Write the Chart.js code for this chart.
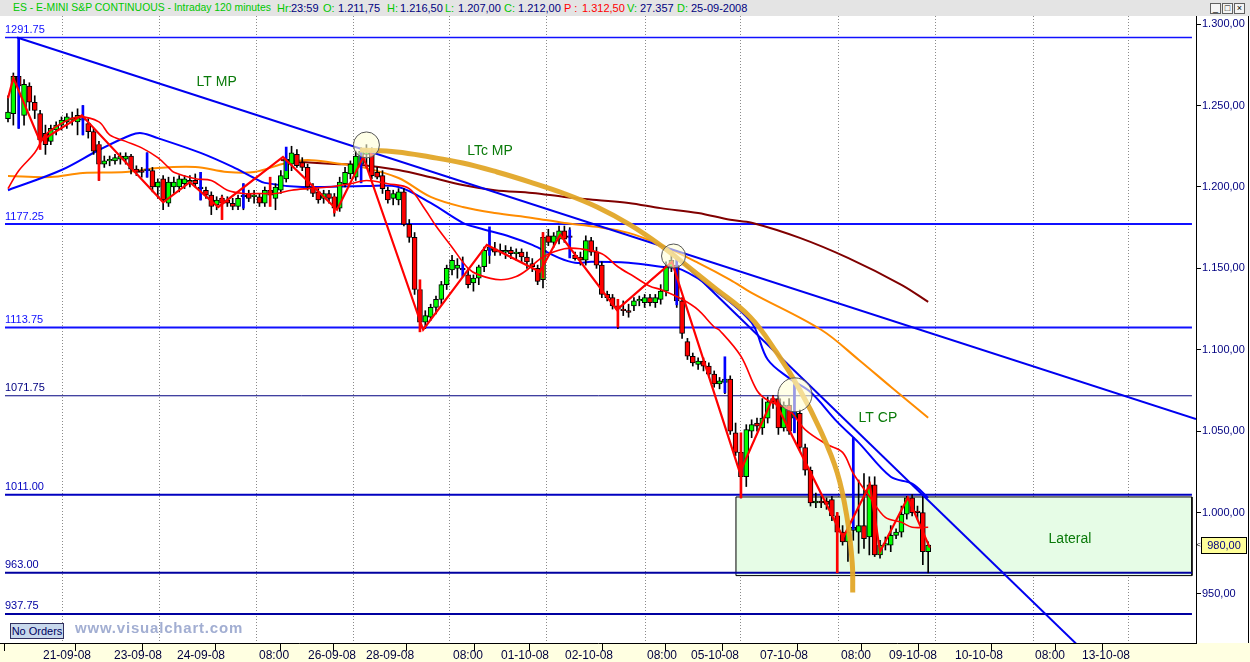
<!DOCTYPE html>
<html><head><meta charset="utf-8">
<script src="https://cdn.jsdelivr.net/npm/chart.js"></script>
<style>
body{margin:0;width:1250px;height:662px;overflow:hidden;background:#fff;position:relative;font-family:'Liberation Sans',Arial,sans-serif;}
#tb{position:absolute;left:0;top:0;width:1250px;height:16px;background:#e4e4e4;font-size:11px;}
#tb span{position:absolute;top:2px;white-space:pre;line-height:12px;}
.g{color:#00c800}.n{color:#000080}.r{color:#ff0000}
.btn{position:absolute;top:3px;width:9px;height:9px;border:1px solid #606060;background:#f4f4f4;font-size:9px;line-height:9px;text-align:center;color:#000}
#c{position:absolute;left:0;top:16px}
#rb{position:absolute;left:1248px;top:16px;width:1px;height:627px;background:#000}
#no{position:absolute;left:10px;top:623px;width:52px;height:14px;border:1px solid #303060;background:#c8d8ec;font-size:11px;color:#000060;line-height:14px;text-align:center}
#url{position:absolute;left:75px;top:619px;font-size:15px;letter-spacing:0.8px;font-weight:bold;color:#a2aed2}
</style></head>
<body>
<div id="tb">
<span class="g" style="left:13px;font-size:10.4px">ES - E-MINI S&amp;P CONTINUOUS - Intraday 120 minutes</span>
<span class="g" style="left:277px">Hr:</span><span class="n" style="left:291px">23:59</span>
<span class="g" style="left:323px">O:</span><span class="n" style="left:338px">1.211,75</span>
<span class="g" style="left:387px">H:</span><span class="n" style="left:400px">1.216,50</span>
<span class="g" style="left:445px">L:</span><span class="n" style="left:458px">1.207,00</span>
<span class="g" style="left:504px">C:</span><span class="n" style="left:518px">1.212,00</span>
<span class="r" style="left:564px">P :</span><span class="r" style="left:582px">1.312,50</span>
<span class="g" style="left:627px">V:</span><span class="n" style="left:640px">27.357</span>
<span class="g" style="left:677px">D:</span><span class="n" style="left:691px">25-09-2008</span>
<div class="btn" style="left:1210px">_</div><div class="btn" style="left:1222px">□</div><div class="btn" style="left:1234px">×</div>
</div>
<canvas id="c" width="1250" height="646"></canvas>
<div id="rb"></div>
<div id="no">No Orders</div>
<div id="url">www.visualchart.com</div>
<script>
// ---------- DATA ----------
const O = [1242,1245,1268,1244,1262,1252,1245,1233,1228,1235, 1238,1240,1241,1240,1241,1239,1234,1226,1214,1216, 1216,1217,1217,1219,1211,1210,1210,1210,1200,1205, 1190,1200,1200,1202,1203,1204,1199,1198,1195,1189, 1193,1192,1190,1188,1194,1196,1194,1194,1190,1198, 1193,1198,1205,1214,1220,1215,1212,1200,1197,1193, 1196,1194,1187,1202,1208,1206,1214,1220,1222,1209, 1207,1198,1193,1192,1197,1177,1169,1137,1117,1120, 1126,1131,1140,1149,1150,1150,1146,1141,1144,1151, 1161,1162,1161,1160,1161,1159,1160,1157,1153,1150, 1143,1170,1166,1168,1173,1170,1158,1157,1155,1167, 1160,1152,1134,1132,1127,1125,1124,1127,1130,1129, 1132,1129,1131,1136,1151,1152,1130,1105,1096,1091, 1093,1090,1085,1079,1080,1082,1049,1037,1022,1050, 1055,1052,1058,1070,1070,1052,1066,1058,1061,1040, 1026,1006,1007,1007,1008,998,988,982,989,988, 992,985,1017,974,980,980,986,988,999,1009, 1001,1000,976];
const H = [1256,1270,1291.75,1266,1264,1256,1247,1238,1238,1240, 1243,1245,1246,1248,1250,1242,1236,1228,1219,1219, 1220,1221,1221,1220,1213,1212,1221,1212,1205,1207, 1206,1206,1207,1207,1207,1208,1209,1200,1197,1194, 1195,1194,1193,1195,1202,1198,1198,1196,1200,1200, 1202,1210,1222,1225,1223,1218,1214,1202,1199,1198, 1198,1196,1206,1212,1216,1222,1224,1226,1224,1212, 1210,1200,1198,1199,1199,1180,1172,1140,1124,1128, 1133,1142,1152,1158,1156,1157,1149,1146,1152,1163, 1173,1166,1165,1164,1163,1162,1162,1160,1156,1152, 1172,1174,1172,1176,1176,1175,1160,1160,1170,1169, 1163,1154,1136,1134,1130,1130,1128,1132,1133,1134, 1134,1134,1140,1154,1158,1157,1132,1107,1098,1095, 1095,1092,1087,1083,1095,1084,1055,1039,1054,1057, 1058,1070,1071,1072,1072,1068,1070,1080,1063,1042, 1028,1012,1010,1009,1010,1000,992,990,1046,1020, 1024,1022,1022,983,985,992,990,1004,1010,1011, 1004,1010,982];
const L = [1240,1238,1236,1238,1247,1242,1224,1220,1226,1232, 1235,1236,1238,1232,1232,1230,1220,1204,1212,1213, 1214,1214,1214,1208,1207,1206,1206,1197,1193,1186, 1188,1196,1197,1199,1200,1200,1192,1193,1183,1186, 1180,1188,1186,1186,1186,1191,1190,1188,1188,1193, 1186,1196,1203,1210,1212,1210,1198,1194,1190,1190, 1190,1182,1185,1200,1205,1204,1210,1212,1205,1205, 1196,1190,1189,1189,1176,1166,1134,1112,1113,1118, 1122,1128,1137,1146,1144,1146,1138,1136,1140,1148, 1153,1158,1158,1156,1156,1155,1154,1150,1148,1140, 1138,1164,1163,1165,1166,1157,1155,1152,1152,1158, 1150,1132,1130,1125,1113,1121,1120,1124,1127,1126, 1127,1126,1128,1133,1148,1126,1107,1094,1090,1088, 1087,1083,1077,1076,1073,1048,1035,1009,1016,1046, 1050,1048,1055,1064,1048,1050,1048,1050,1038,1023, 1004,1003,1003,1002,995,963,980,970,983,975, 978,974,973,972,977,976,984,985,996,998, 996,968,963];
const C = [1246,1268,1262,1263,1252,1247,1229,1226,1236,1238, 1241,1243,1242.5,1244,1242,1234,1222,1214,1216,1217, 1218,1219,1219,1211,1209,1209,1211,1200,1203,1192, 1203,1203,1205,1205,1204,1202,1200,1195,1188,1192, 1190,1190,1188,1193,1195,1193,1195,1190,1198,1195, 1200,1207,1217,1221,1213,1212,1200,1196,1192,1196, 1193,1187,1203,1209,1214,1219,1222,1221,1207,1206, 1199,1192,1196,1197,1177,1169,1137,1117,1121,1126, 1131,1140,1150,1155,1152,1149,1140,1144,1151,1161, 1163,1160,1160,1161,1159,1160,1157,1154,1151,1142, 1169,1166,1170,1173,1168,1169,1156,1155,1167,1160, 1152,1134,1132,1127,1125,1124,1123,1130,1131,1132, 1129,1132,1136,1151,1155,1130,1110,1096,1092,1093, 1090,1085,1079,1081,1082,1050,1037,1022,1051,1054, 1053,1058,1068,1068,1052,1066,1050,1062,1040,1026, 1006,1007,1006,1005,998,988,982,988,991,992, 984,1017,974,980,981,986,988,999,1009,1000, 1000,976,980];

// highlighted vertical bars (blue / red)
const blueIdx = [2,14,26,36,44,52,66,85,90,105,125,134,147,158];
const blueLo  = [1236,1232,1206,1192,1187,1210,1202.5,1145,1158,1156.4,1127.6,1073.6,1049,989.6];
const blueHi  = [1291.75,1250,1221,1209,1202,1224.5,1221.5,1154,1175.5,1173.6,1157,1095.7,1078.5,1046];
const redIdx  = [6,17,40,49,61,77,100,114,137,155];
const redLo   = [1223,1204,1180,1188,1184,1111,1144,1114,1009,963];
const redHi   = [1237,1226,1194,1206,1194,1143,1172,1131,1049,1000];

// moving averages (bar index, value)
const blueMAx = [0,10,17,23,25,28,36,42,46,48,55,67,73,79,85,88,94,98,103,106,109,116,122,126,132,139,142,146,150,155,159,165,169,172];
const blueMAy = [1198,1210.4,1222.7,1231.9,1233,1230,1220.9,1212.3,1205.5,1202.5,1200,1200.6,1200,1190.2,1178,1174.8,1169.3,1164.4,1156.4,1153.4,1154,1153.4,1151,1149.1,1136.8,1116.6,1094,1082.6,1074,1055.7,1043,1022,1017.8,1009];
const orangeX = [0,8,14,22,28,35,41,46,52,56,61,66,73,79,85,91,98,104,110,116,122,129,135,139,152,159,165,172];
const orangeY = [1206.7,1206.1,1208.6,1209.2,1211.7,1212.3,1209.2,1209.2,1214.7,1216.6,1214.7,1212.3,1205.5,1193.9,1187.7,1184,1181,1177.9,1175.5,1171.8,1164.4,1153.4,1143,1135,1112.3,1093.9,1077.3,1058.3];
const maroonX = [51,55,61,66,73,79,85,91,98,104,110,116,122,129,135,139,148,157,167,172];
const maroonY = [1216.6,1215.3,1214.1,1213.5,1210.4,1206,1201.2,1198,1196.3,1193.9,1192,1190.2,1187,1184,1179.8,1178,1168.7,1156.4,1139.9,1129.4];
const redMAx = [0,2,5,7,10,13,17,19,22,25,28,30,31,35,38,41,44,47,50,53,56,60,64,67,71,75,78,80,83,86,88,92,95,97,100,104,107,111,114,117,120,122,126,129,132,133,137,140,142,146,149,153,156,158,161,164,167,169,172];
const redMAy = [1199,1210,1221,1232,1239,1243,1240,1232,1228,1224,1218,1212,1209,1205,1204,1198,1196,1196,1196,1198,1199,1200,1202,1204,1202,1199,1186,1176,1163,1150,1146,1143,1145,1149,1157,1162,1162,1159,1151,1145,1139,1137,1131,1124.5,1114,1112,1096,1075,1069,1063,1051,1042,1037,1024,1010,997,994,991,991];
// zigzag pivots
const zigX = [0,1,6,13.8,29,34,39.3,51.4,61.5,66.4,77.6,89.5,99.4,103.2,113.8,124.1,136.8,143,156.1,161.1,163,168.2,172.3];
const zigY = [1254.5,1267,1228,1244,1190.6,1203,1187.7,1218.4,1186,1218.4,1112.3,1164.4,1147.9,1170.6,1124.5,1154,1024.5,1070.6,984.7,1017.2,976,1009.2,978.5];
// drawn trend lines
const ltmpX = [1.7,222.06], ltmpY = [1291.75,1057.5];
const ltcpX = [124.1,199.8], ltcpY = [1160,919];
const goldX = [65.8,72.7,78.9,85.0,91.4,97.6,103.7,110.1,116.3,122.4,126.2,131.8,138.7,143.7,148,151.8,155,156.8,157.8,157.9];
const goldY = [1222.7,1221.5,1218.4,1214.7,1209.2,1203,1196.3,1187.7,1176.7,1163.2,1153.4,1138.7,1120.2,1098.2,1075.5,1050.9,1024.5,997.5,969.3,950.9];
// circles
const circX = [67.0,124.4,147.1], circY = [1225.8,1157.6,1072.3], circR = [13,12,17];
// horizontal levels
const levels = [1291.75,1177.25,1113.75,1071.75,1011,963,937.75];
const levelLabels = ['1291.75','1177.25','1113.75','1071.75','1011.00','963.00','937.75'];
const levelColors = ['#1010ff','#1010ff','#1010ff','#000080','#0000c0','#0000a0','#0000a0'];
const levelWidths = [1.5,2,2,1,2,2,2];
// lateral box
const boxX = [136.07,221.3], boxTop = 1009.6, boxBottom = 961.3;
// text annotations
const annText = ['LT MP','LTc MP','LT CP','Lateral'];
const annX = [39.0,90.1,162.6,198.5], annY = [1264.5,1222.1,1058.1,983.8];
// axes
const yTicks = [950,1000,1050,1100,1150,1200,1250,1300];
const xLabPos = [5.98,19.25,31.03,46.36,55.51,66.36,82.62,91.59,103.55,118.88,127.10,140.0,155.14,164.11,176.45,191.40,200.19];
const xLabTxt = ['21-09-08','23-09-08','24-09-08','08:00','26-09-08','28-09-08','08:00','01-10-08','02-10-08','08:00','05-10-08','07-10-08','08:00','09-10-08','10-10-08','08:00','13-10-08'];
const xGridPos = [10.1,28.4,46.5,64.5,82.6,100.7,119.1,137.0,155.3,173.3,191.6,209.5];

// ---------- CHART ----------
Chart.defaults.font.family = "'Liberation Sans', Arial, sans-serif";
const fmt = v => { const s = v.toFixed(2).split('.'); return s[0].replace(/\B(?=(\d{3})+(?!\d))/g,'.') + ',' + s[1]; };
const pts = (xs, ys) => xs.map((x,k) => ({x, y: ys[k]}));
const line = (xs, ys, color, width, order, extra) => Object.assign({type:'line', data: pts(xs, ys), borderColor: color, borderWidth: width, pointRadius: 0, fill: false, tension: 0, order, xAxisID:'x', yAxisID:'y'}, extra || {});
const noPad = s => { s.paddingTop = 0; s.paddingBottom = 0; s.paddingLeft = 0; s.paddingRight = 0; };

const datasets = [];
// box
datasets.push(line(boxX, [boxTop, boxTop], 'rgba(0,0,0,0)', 0, 100, {fill: {value: boxBottom}, backgroundColor: '#e6fce6'}));
datasets.push(line([boxX[0],boxX[1],boxX[1],boxX[0],boxX[0]], [boxTop,boxTop,boxBottom,boxBottom,boxTop], '#000', 1, 99));
// levels
levels.forEach((v,k) => datasets.push(line([-0.56, 221.3], [v, v], levelColors[k], levelWidths[k], 90)));
// MAs
datasets.push(line(maroonX, maroonY, '#800000', 2, 60, {tension: 0.35}));
datasets.push(line(orangeX, orangeY, '#ff8c00', 2, 59, {tension: 0.35}));
datasets.push(line(blueMAx, blueMAy, '#0000ff', 2, 58, {tension: 0.35}));
// candles
datasets.push({type:'bar', data: O.map((o,i) => ({x: i, y: [L[i], H[i]]})), backgroundColor:'#000', barThickness: 1, grouped: false, order: 45, xAxisID:'x', yAxisID:'y'});
datasets.push({type:'bar', data: O.map((o,i) => ({x: i, y: [o, C[i]]})), backgroundColor: O.map((o,i) => C[i] >= o ? '#00ff00' : '#ff0000'), borderColor:'#000', borderWidth: 1, borderSkipped: false, barThickness: 5, grouped: false, order: 44, xAxisID:'x', yAxisID:'y'});
datasets.push({type:'bar', data: blueIdx.map((x,k) => ({x, y: [blueLo[k], blueHi[k]]})), backgroundColor:'#0000ff', barThickness: 2, grouped: false, order: 40, xAxisID:'x', yAxisID:'y'});
datasets.push({type:'bar', data: redIdx.map((x,k) => ({x, y: [redLo[k], redHi[k]]})), backgroundColor:'#ff0000', barThickness: 2, grouped: false, order: 39, xAxisID:'x', yAxisID:'y'});
// red MA and zigzag
datasets.push(line(redMAx, redMAy, '#ff0000', 1.6, 30, {tension: 0.35}));
datasets.push(line(zigX, zigY, '#ff0000', 2.2, 29));
// trend lines
datasets.push(line(ltmpX, ltmpY, '#0000f0', 2, 20));
datasets.push(line(ltcpX, ltcpY, '#0000f0', 2, 19));
datasets.push(line(goldX, goldY, 'rgba(226,166,40,0.95)', 5, 18, {tension: 0.4}));
// circles
datasets.push({type:'bubble', data: circX.map((x,k) => ({x, y: circY[k], r: circR[k]})), backgroundColor:'rgba(255,255,215,0.6)', borderColor:'#555', borderWidth: 1, order: 5, xAxisID:'x', yAxisID:'y'});

const overlay = {
  id: 'overlay',
  beforeDraw(chart) {
    const {ctx, chartArea: a, width, height} = chart;
    ctx.save(); ctx.fillStyle = '#ffffe1'; ctx.fillRect(0, a.bottom, width, height - a.bottom); ctx.restore();
  },
  afterDatasetsDraw(chart) {
    const {ctx} = chart, xs = chart.scales.x, ys = chart.scales.y;
    ctx.save();
    ctx.font = "11px 'Liberation Sans', Arial, sans-serif";
    ctx.textAlign = 'left'; ctx.textBaseline = 'bottom';
    levels.forEach((v,k) => { ctx.fillStyle = levelColors[k]; ctx.fillText(levelLabels[k], chart.chartArea.left + 5, ys.getPixelForValue(v) - 2); });
    ctx.font = "14px 'Liberation Sans', Arial, sans-serif";
    ctx.fillStyle = '#0a7a0a'; ctx.textAlign = 'center'; ctx.textBaseline = 'middle';
    annText.forEach((t,k) => ctx.fillText(t, xs.getPixelForValue(annX[k]), ys.getPixelForValue(annY[k])));
    ctx.restore();
  },
  afterDraw(chart) {
    const {ctx, chartArea: a} = chart, ys = chart.scales.y;
    const last = C[C.length - 1], y = Math.round(ys.getPixelForValue(last));
    ctx.save();
    ctx.fillStyle = '#ffff99'; ctx.fillRect(a.right + 5, y - 8, 45, 16);
    ctx.strokeStyle = '#000'; ctx.lineWidth = 1; ctx.strokeRect(a.right + 5.5, y - 7.5, 45, 16);
    ctx.fillStyle = '#000080'; ctx.font = "11px 'Liberation Sans', Arial, sans-serif";
    ctx.textAlign = 'center'; ctx.textBaseline = 'middle';
    ctx.fillText(fmt(last), a.right + 28, y + 0.5);
    ctx.font = "8px 'Liberation Sans', Arial, sans-serif"; ctx.fillStyle = '#000';
    ctx.fillText('<', a.right + 2.5, y);
    ctx.restore();
  }
};

new Chart(document.getElementById('c'), {
  type: 'line',
  data: {datasets},
  plugins: [overlay],
  options: {
    responsive: false, animation: false, events: [],
    layout: {padding: 0, autoPadding: false},
    plugins: {legend: {display: false}, tooltip: {enabled: false}, title: {display: false}},
    scales: {
      x: {
        type: 'linear', position: 'bottom', min: -1.4953, max: 222.06, offset: false,
        afterBuildTicks: s => { s.ticks = xLabPos.map(v => ({value: v})); },
        afterFit: s => { s.height = 19; noPad(s); },
        ticks: {autoSkip: false, maxRotation: 0, minRotation: 0, align: 'start', labelOffset: 3, padding: -3,
                color: '#000040', font: {size: 12}, callback: (v, i) => xLabTxt[i]},
        grid: {drawOnChartArea: false, drawTicks: true, tickLength: 8, tickColor: '#000', color: '#000'},
        border: {display: true, color: '#000', width: 1}
      },
      xg: {
        type: 'linear', axis: 'x', position: 'top', min: -1.4953, max: 222.06, offset: false,
        afterBuildTicks: s => { s.ticks = xGridPos.map(v => ({value: v})); },
        afterFit: s => { s.height = 0; noPad(s); },
        ticks: {display: false},
        grid: {drawOnChartArea: true, drawTicks: false, color: '#8a8a8a', lineWidth: 1, borderDash: [1, 2]},
        border: {display: false, dash: [1, 2]}
      },
      y: {
        type: 'linear', position: 'right', min: 919.9, max: 1305.0,
        afterBuildTicks: s => { s.ticks = yTicks.map(v => ({value: v})); },
        afterFit: s => { s.width = 54; noPad(s); },
        ticks: {color: '#000080', font: {size: 11}, padding: 1, callback: v => fmt(v)},
        grid: {drawOnChartArea: false, drawTicks: true, tickLength: 5, tickColor: '#000'},
        border: {display: true, color: '#000', width: 1}
      }
    }
  }
});
</script>
</body></html>
